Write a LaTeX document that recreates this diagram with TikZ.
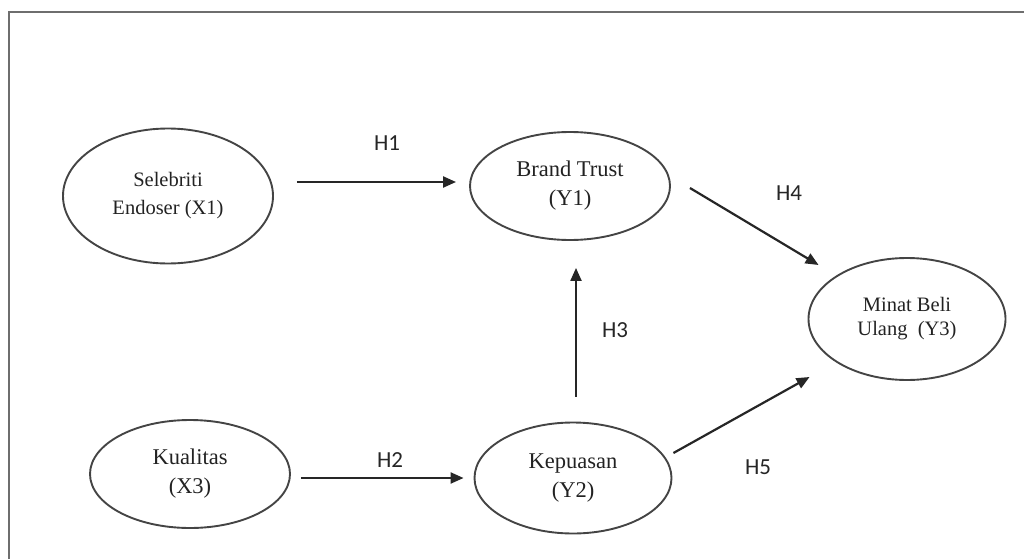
\documentclass[tikz,border=0pt]{standalone}
\usepackage{fontspec}
\setmainfont{Liberation Serif}
\newfontfamily\hfont{Carlito}
\usetikzlibrary{shapes.geometric,arrows.meta}
\definecolor{edgegray}{HTML}{444444}
\definecolor{txtgray}{HTML}{222222}
\definecolor{framegray}{HTML}{6E6E6E}
\tikzset{
  var/.style={ellipse, draw=edgegray, line width=1.9pt, inner sep=0pt, align=center,
    text=txtgray, font=\fontsize{22.5}{29}\selectfont},
  varsmall/.style={var, font=\fontsize{20.5}{28}\selectfont},
  arr/.style={-{Triangle[length=13pt,width=11pt]}, line width=2.2pt, black!85},
  hlab/.style={font=\hfont\fontsize{23}{26}\selectfont, text=black!85, inner sep=0pt}
}
\begin{document}
\begin{tikzpicture}[x=1pt,y=-1pt]
\useasboundingbox (0,0) rectangle (1024,559);
% frame
\draw[framegray, line width=2.6pt] (9,559) -- (9,12) -- (1024,12);
% nodes
\node[varsmall, minimum width=210pt, minimum height=135pt] (x1) at (168,196) {Selebriti\\Endoser (X1)};
\node[var, minimum width=200pt, minimum height=108pt] (y1) at (570,186) {Brand Trust\\(Y1)};
\node[varsmall, minimum width=197pt, minimum height=122pt, font=\fontsize{20.5}{24}\selectfont] (y3) at (907,319) {Minat Beli\\Ulang~~(Y3)};
\node[var, minimum width=200pt, minimum height=108pt] (x3) at (190,474) {Kualitas\\(X3)};
\node[var, minimum width=197pt, minimum height=111pt] (y2) at (573,478) {Kepuasan\\(Y2)};
% connectors
\draw[arr] ([xshift=23pt,yshift=14pt]x1.east) -- ([xshift=-13pt,yshift=4pt]y1.west);
\draw[arr] ([xshift=10pt,yshift=-4pt]x3.east) -- ([xshift=-10pt]y2.west);
\draw[arr] ([xshift=3pt,yshift=25pt]y2.north) -- ([xshift=6pt,yshift=-27pt]y1.south);
\draw[arr] ([xshift=19pt,yshift=-2pt]y1.east) -- ([xshift=11pt,yshift=54pt]y3.west);
\draw[arr] ([xshift=1pt,yshift=25pt]y2.east) -- ([xshift=2pt,yshift=-58pt]y3.west);
% labels
\node[hlab] (h1) at (387,143) {H1};
\node[hlab] (h2) at (390,460) {H2};
\node[hlab] (h3) at (615,330) {H3};
\node[hlab] (h4) at (789,193) {H4};
\node[hlab] (h5) at (758,467) {H5};
\end{tikzpicture}
\end{document}
